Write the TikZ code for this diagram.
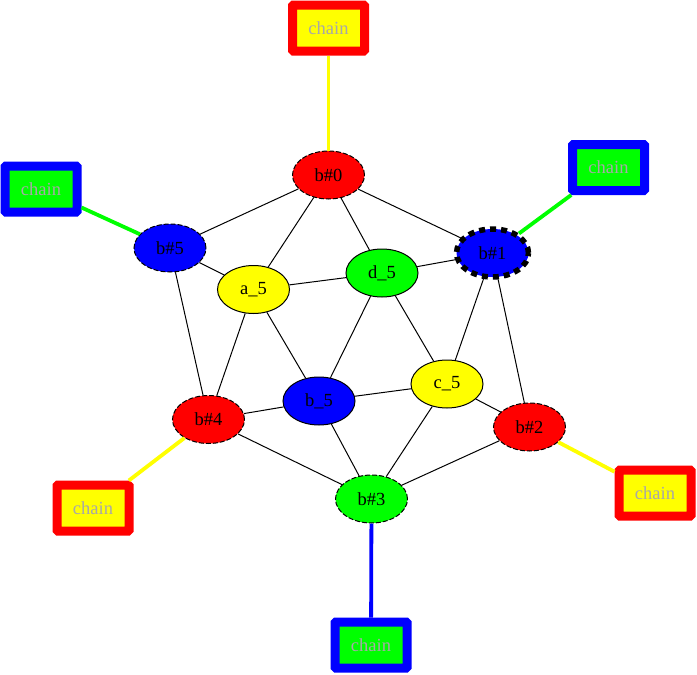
\documentclass[tikz,border=0pt]{standalone}
\usepackage{fontspec}
\setmainfont{Liberation Serif}
\usetikzlibrary{shapes.geometric}
\definecolor{chaingray}{RGB}{168,168,168}
\definecolor{gvred}{RGB}{255,0,0}
\definecolor{gvyellow}{RGB}{255,255,0}
\definecolor{gvgreen}{RGB}{0,255,0}
\definecolor{gvblue}{RGB}{0,0,255}
\tikzset{
  every node/.style={font=\fontsize{18.5}{20}\selectfont},
  gvell/.style={ellipse, draw=black, line width=1pt, minimum width=72pt, minimum height=48pt, inner sep=0pt},
  bnode/.style={gvell, dash pattern=on 5pt off 2pt},
  bthick/.style={gvell, line width=5.5pt, dash pattern=on 6pt off 5pt},
  chainbox/.style={rectangle, rounded corners=1pt, line width=9pt, minimum width=72pt, minimum height=46pt, inner sep=0pt, text=chaingray},
  edge/.style={draw=black, line width=1pt},
  cedge/.style={line width=3.8pt},
}
\begin{document}
\begin{tikzpicture}[x=1pt,y=-1pt]
\useasboundingbox (0,0) rectangle (697,675);
% main nodes
\node[bnode, fill=gvred]   (b0) at (328.5,175) {b\#0};
\node[bthick, fill=gvblue] (b1) at (492.5,253) {b\#1};
\node[bnode, fill=gvred]   (b2) at (529.5,427) {b\#2};
\node[bnode, fill=gvgreen] (b3) at (371.5,499) {b\#3};
\node[bnode, fill=gvred]   (b4) at (208.5,419.5) {b\#4};
\node[bnode, fill=gvblue]  (b5) at (170,248) {b\#5};
\node[gvell, fill=gvyellow] (a5) at (253.5,289.5) {a\_5};
\node[gvell, fill=gvgreen]  (d5) at (382,273) {d\_5};
\node[gvell, fill=gvyellow] (c5) at (447,384) {c\_5};
\node[gvell, fill=gvblue]   (bb5) at (319,401) {b\_5};
% chain nodes
\node[chainbox, draw=gvred, fill=gvyellow]  (ch0) at (328.5,28) {chain};
\node[chainbox, draw=gvblue, fill=gvgreen]  (ch1) at (608.5,167.5) {chain};
\node[chainbox, draw=gvred, fill=gvyellow]  (ch2) at (655,493) {chain};
\node[chainbox, draw=gvblue, fill=gvgreen]  (ch3) at (371,645) {chain};
\node[chainbox, draw=gvred, fill=gvyellow]  (ch4) at (93,508) {chain};
\node[chainbox, draw=gvblue, fill=gvgreen]  (ch5) at (41,189) {chain};
% edges
\draw[edge] (b0) -- (b5);
\draw[edge] (b0) -- (a5);
\draw[edge] (b0) -- (d5);
\draw[edge] (b0) -- (b1);
\draw[edge] (b5) -- (a5);
\draw[edge] (b5) -- (b4);
\draw[edge] (a5) -- (d5);
\draw[edge] (a5) -- (b4);
\draw[edge] (a5) -- (bb5);
\draw[edge] (d5) -- (b1);
\draw[edge] (d5) -- (bb5);
\draw[edge] (d5) -- (c5);
\draw[edge] (b1) -- (c5);
\draw[edge] (b1) -- (b2);
\draw[edge] (c5) -- (bb5);
\draw[edge] (c5) -- (b3);
\draw[edge] (c5) -- (b2);
\draw[edge] (bb5) -- (b4);
\draw[edge] (bb5) -- (b3);
\draw[edge] (b4) -- (b3);
\draw[edge] (b2) -- (b3);
% chain edges
\draw[cedge, draw=gvyellow] (ch0) -- (b0);
\draw[cedge, draw=gvgreen]  (ch1) -- (b1);
\draw[cedge, draw=gvyellow] (ch2) -- (b2);
\draw[cedge, draw=gvblue]   (ch3) -- (b3);
\draw[cedge, draw=gvyellow] (ch4) -- (b4);
\draw[cedge, draw=gvgreen]  (ch5) -- (b5);
\end{tikzpicture}
\end{document}
